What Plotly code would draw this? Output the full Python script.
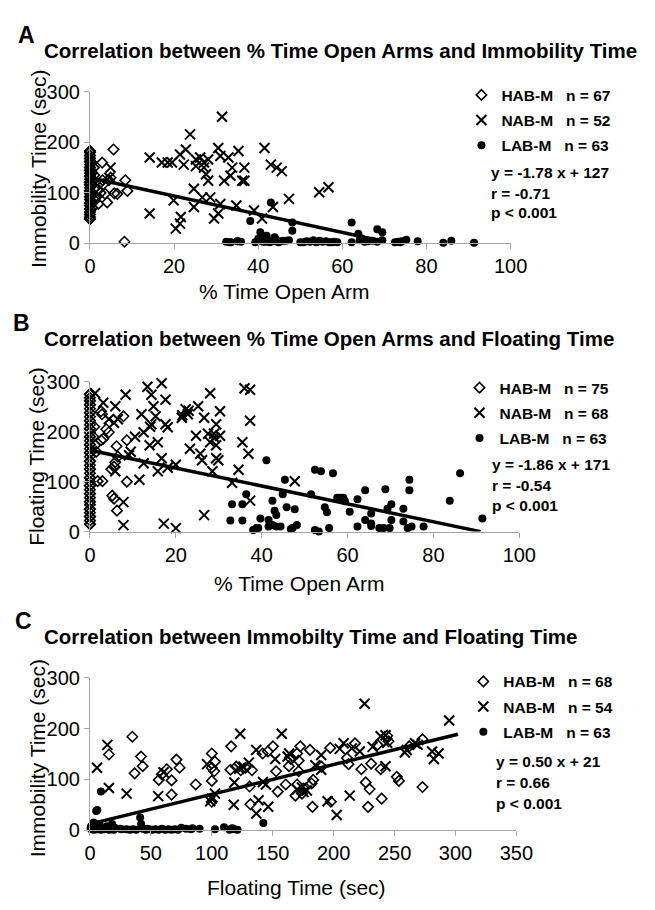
import plotly.graph_objects as go

# ---------------- Panel A: % Time Open Arm vs Immobility Time ----------------
hab_a_x = [0]*40 + [0.8, 1.2, 1.7, 2.0, 2.9, 3.2, 3.6, 4.1, 4.9, 5.6, 5.8, 6.5, 8.4, 8.9, 8.2, 1.5, 2.5,
                    0.5, 1.0, 3.0, 4.5, 0.6, 1.2, 2.2, 0.4, 0.9, 0.3]
hab_a_y = [48, 48, 52, 57, 57, 62, 68, 68, 75, 80, 80, 87, 92, 92, 98, 104, 104, 110, 116, 116,
           121, 121, 127, 133, 133, 139, 145, 145, 150, 150, 156, 162, 162, 168, 168, 174, 174, 180, 183, 183,
           124, 110, 106, 78, 160, 117, 98, 81, 130, 186, 99, 98, 125, 104, 3, 92, 100,
           140, 135, 125, 125, 70, 85, 118, 160, 150, 100]
nab_a_x = [31.4, 23.8, 22.8, 21.4, 14.2, 17.1, 18.5, 19.5, 22.3, 25.2, 26.2, 27.1, 28.1, 30.5, 31.0, 32.9,
           35.3, 36.7, 33.8, 36.2, 36.7, 31.9, 33.4, 27.6, 28.1, 25.2, 27.1, 41.5, 43.0, 44.4, 45.6, 24.7,
           24.7, 19.9, 26.7, 28.6, 31.0, 30.5, 29.5, 34.8, 39.0, 40.9, 43.5, 47.3, 54.5, 56.7, 14.2, 20.4,
           21.4, 21.6, 4.9, 4.6]
nab_a_y = [251, 216, 186, 176, 170, 160, 160, 160, 156, 166, 170, 160, 166, 189, 173, 170,
           183, 150, 150, 124, 124, 124, 134, 137, 124, 153, 150, 189, 156, 150, 143, 108,
           72, 85, 91, 91, 78, 59, 49, 75, 65, 49, 72, 88, 101, 111, 59, 29,
           39, 52, 150, 130]
lab_a_x = [32.4, 33.2, 35.1, 35.9, 39.3, 40.1, 40.8, 41.6, 42.0, 42.7, 43.5, 44.3, 45.0, 45.8, 47.3,
           50.8, 51.5, 52.3, 53.1, 53.8, 54.6, 55.3, 56.1, 56.9, 58.0, 58.8, 62.2, 64.1, 65.3, 66.1,
           67.2, 68.3, 69.5, 72.5, 73.3, 74.1, 75.2, 77.9, 84.0, 85.9, 91.3,
           38.1, 48.1, 48.1, 43.0, 62.2, 63.8, 68.3, 69.5, 40.5, 42.0, 43.9, 40.0, 64.5, 66.0,
           41.2, 43.0, 44.8, 46.5, 50.0, 54.0, 57.5, 33.5, 73.8, 35.0]
lab_a_y = [3, 2, 4, 3, 2, 5, 8, 3, 6, 2, 4, 7, 3, 5, 6,
           2, 4, 3, 6, 2, 5, 3, 4, 2, 3, 2, 2, 6, 3, 4,
           5, 3, 6, 2, 3, 4, 7, 4, 1, 5, 1,
           44, 41, 25, 81, 41, 19, 28, 22, 22, 15, 12, 9, 10, 5,
           3, 4, 2, 5, 2, 3, 2, 2, 2, 4]
trend_a_x = [0, 68]
trend_a_y = [130, 7]

# ---------------- Panel B: % Time Open Arm vs Floating Time ----------------
hab_b_x = [0]*52 + [2.8, 7.8, 4.4, 2.6, 8.6, 6.2, 2.9, 1.8, 8.6, 5.2, 5.6, 6.3, 5.6, 5.9, 2.6, 1.2,
                    3.1, 3.8, 6.5, 5.0, 1.0, 0.8, 1.5]
hab_b_y = [15, 15, 22, 30, 30, 38, 45, 45, 54, 60, 60, 68, 76, 76, 84, 92, 92, 100, 108, 108,
           117, 125, 125, 133, 141, 141, 150, 158, 158, 166, 174, 174, 182, 190, 190, 198, 206, 206, 214, 222,
           222, 230, 238, 238, 246, 254, 254, 262, 262, 268, 275, 275,
           235, 231, 199, 183, 183, 171, 101, 101, 100, 72, 66, 42, 130, 139, 241, 173,
           186, 205, 150, 125, 210, 190, 160]
nab_b_x = [1.2, 3.1, 5.9, 8.3, 13.4, 14.3, 16.7, 17.6, 14.8, 12.0, 15.3, 14.3, 12.5, 17.6, 18.1, 15.8,
           13.9, 16.7, 15.8, 12.5, 11.5, 20.0, 21.4, 22.3, 22.8, 25.2, 26.6, 28.0, 30.3, 29.4, 28.9, 24.7,
           23.3, 25.7, 26.1, 28.0, 29.4, 29.4, 30.3, 29.9, 28.5, 33.1, 34.6, 35.5, 36.9, 37.3, 36.0, 37.3,
           37.3, 47.7, 5.9, 7.8, 7.8, 17.2, 20.0, 26.6, 9.1, 5.6, 4.4, 18.1,
           9.5, 21.5, 23.0, 27.5, 29.0, 14.0, 6.5, 10.5]
nab_b_y = [277, 258, 251, 274, 290, 274, 297, 264, 251, 235, 231, 215, 199, 215, 209, 179,
           173, 147, 121, 137, 104, 134, 228, 245, 235, 251, 228, 277, 241, 215, 196, 192,
           166, 156, 143, 179, 173, 147, 192, 143, 121, 98, 124, 179, 156, 222, 287, 284,
           62, 101, 121, 59, 13, 16, 7, 33, 153, 218, 225, 128,
           160, 233, 242, 196, 188, 210, 225, 190]
lab_b_x = [41.1, 45.4, 44.9, 42.5, 45.8, 43.0, 43.4, 39.7, 33.1, 35.5, 36.4, 32.7, 35.5, 38.8, 39.2, 41.6,
           42.5, 43.4, 44.4, 41.6, 47.2, 48.2, 51.5, 52.4, 53.8, 56.6, 54.7, 55.2, 52.4, 53.3, 55.7, 57.6,
           58.3, 59.0, 59.4, 62.3, 62.3, 64.1, 64.1, 65.5, 65.5, 65.5, 67.4, 68.4, 69.8, 68.8, 69.3, 70.2,
           70.2, 73.0, 73.0, 74.0, 74.9, 74.4, 74.4, 77.7, 83.8, 86.2, 91.4, 38.0, 46.8, 60.5, 47.7]
lab_b_y = [143, 104, 75, 62, 49, 42, 33, 26, 55, 55, 75, 22, 22, 7, 7, 10,
           13, 10, 10, 23, 7, 13, 75, 124, 121, 117, 49, 39, 3, 0, 7, 68,
           68, 68, 61, 65, 10, 83, 23, 36, 16, 11, 7, 7, 7, 85, 46, 55,
           23, 46, 20, 7, 10, 104, 83, 10, 62, 117, 26, 3, 5, 40, 45]
trend_b_x = [0, 91]
trend_b_y = [163, 0]

# ---------------- Panel C: Floating Time vs Immobility Time ----------------
hab_c_x = [34.8, 15.6, 41.9, 43.3, 36.7, 56.5, 63.1, 67.0, 71.0, 73.6, 67.0, 86.8, 100.0, 100.0, 102.6, 100.0,
           102.0, 100.0, 115.9, 115.3, 123.8, 127.7, 133.0, 131.7, 131.0, 141.7, 150.2, 152.8, 154.1, 160.7,
           163.3, 170.0, 171.3, 172.6, 171.3, 170.0, 168.6, 174.0, 175.3, 180.6, 181.9, 183.2, 182.6, 197.2,
           197.7, 210.9, 212.2, 217.5, 222.8, 226.3, 229.5, 228.2, 230.8, 236.0, 238.6, 239.4, 243.9, 251.8,
           253.6, 272.9, 272.9, 59.0, 120.0, 146.0, 165.0, 190.0, 245.0, 262.0]
hab_c_y = [184, 149, 145, 126, 112, 99, 120, 98, 139, 123, 70, 90, 151, 123, 135, 97,
           116, 56, 165, 119, 118, 123, 118, 51, 86, 151, 165, 116, 76, 90,
           126, 151, 137, 165, 116, 90, 68, 72, 82, 158, 92, 99, 46, 162,
           56, 142, 130, 171, 120, 94, 81, 46, 131, 168, 120, 62, 186, 105,
           97, 179, 85, 110, 125, 155, 140, 125, 175, 165]
nab_c_x = [5.8, 14.3, 15.6, 30.1, 56.0, 60.4, 96.1, 98.7, 102.6, 118.5, 118.0, 123.3, 122.5, 130.4, 136.5,
           138.4, 136.5, 144.4, 146.3, 157.4, 162.2, 163.5, 174.0, 175.3, 189.8, 189.8, 195.1, 202.5, 208.2,
           225.4, 214.9, 221.5, 213.2, 232.0, 238.6, 242.6, 243.9, 242.6, 258.4, 266.8, 268.9, 280.8, 282.2,
           286.1, 294.8, 126.0, 142.0, 170.0, 185.0, 100.0, 152.0, 260.0, 178.0, 205.0]
nab_c_y = [123, 168, 83, 72, 67, 114, 130, 57, 72, 94, 50, 190, 121, 133, 158,
           59, 33, 90, 46, 190, 145, 151, 84, 75, 148, 119, 57, 30, 171,
           249, 161, 155, 68, 164, 185, 187, 172, 126, 153, 171, 168, 155, 140,
           151, 216, 125, 95, 80, 128, 62, 140, 158, 78, 160]
lab_c_x = [1.0, 2.4, 3.7, 5.0, 6.3, 7.7, 9.0, 10.3, 11.6, 12.9, 15.6, 16.9, 18.2, 19.5, 20.8, 26.1,
           32.7, 35.4, 38.0, 43.3, 45.9, 48.6, 51.2, 53.8, 56.5, 59.1, 61.8, 64.4, 67.0, 69.7, 72.3,
           78.9, 82.9, 84.2, 102.6, 114.5, 115.9, 118.5, 121.1,
           9.0, 5.1, 6.0, 41.2, 42.0, 142.3, 1.0, 16.9, 18.2, 5.0, 3.0, 12.0, 2.0, 0.5, 8.0, 14.0,
           20.0, 25.0, 30.0, 47.0, 75.0, 90.0, 110.0, 117.0]
lab_c_y = [2, 4, 1, 3, 2, 5, 1, 3, 2, 4, 1, 3, 2, 1, 4, 2,
           1, 2, 1, 3, 1, 2, 1, 2, 1, 3, 1, 2, 1, 2, 1,
           3, 2, 4, 2, 1, 3, 2, 1,
           76, 38, 40, 25, 12, 14, 8, 6, 12, 12, 15, 3, 2, 5, 10, 8,
           5, 3, 2, 3, 5, 3, 6, 4]
trend_c_x = [3, 302]
trend_c_y = [14, 189]

legend_names = [["HAB-M", "n = 67"], ["NAB-M", "n = 52"], ["LAB-M", "n = 63"]]
legend_names_b = [["HAB-M", "n = 75"], ["NAB-M", "n = 68"], ["LAB-M", "n = 63"]]
legend_names_c = [["HAB-M", "n = 68"], ["NAB-M", "n = 54"], ["LAB-M", "n = 63"]]
stats_a = ["y = -1.78 x + 127", "r = -0.71", "p < 0.001"]
stats_b = ["y = -1.86 x + 171", "r = -0.54", "p < 0.001"]
stats_c = ["y = 0.50 x + 21", "r = 0.66", "p < 0.001"]
titles = ["Correlation between % Time Open Arms and Immobility Time",
          "Correlation between % Time Open Arms and Floating Time",
          "Correlation between Immobilty Time and Floating Time"]

W, H = 655, 910
FONT = "Liberation Sans, Arial, sans-serif"
NB = "\u00a0"


def px(x):
    return x / W


def py(y):
    return (H - y) / H


fig = go.Figure()

panels = [
    dict(hab=(hab_a_x, hab_a_y), nab=(nab_a_x, nab_a_y), lab=(lab_a_x, lab_a_y),
         trend=(trend_a_x, trend_a_y), names=legend_names, ax="x", ay="y", leg="legend"),
    dict(hab=(hab_b_x, hab_b_y), nab=(nab_b_x, nab_b_y), lab=(lab_b_x, lab_b_y),
         trend=(trend_b_x, trend_b_y), names=legend_names_b, ax="x2", ay="y2", leg="legend2"),
    dict(hab=(hab_c_x, hab_c_y), nab=(nab_c_x, nab_c_y), lab=(lab_c_x, lab_c_y),
         trend=(trend_c_x, trend_c_y), names=legend_names_c, ax="x3", ay="y3", leg="legend3"),
]

marker_styles = {
    "hab": dict(symbol="diamond-open", size=8, color="black", line=dict(width=1.6, color="black")),
    "nab": dict(symbol="x-thin-open", size=10, color="black", line=dict(width=2, color="black")),
    "lab": dict(symbol="circle", size=8, color="black", line=dict(width=0)),
}

for i, p in enumerate(panels):
    for j, key in enumerate(["hab", "nab", "lab"]):
        xs, ys = p[key]
        nm = p["names"][j]
        fig.add_trace(go.Scatter(
            x=xs, y=ys, mode="markers", marker=marker_styles[key],
            name=nm[0] + NB * 3 + nm[1], xaxis=p["ax"], yaxis=p["ay"],
            legend=p["leg"], legendgroup=f"{i}{key}", cliponaxis=False,
            hoverinfo="x+y"))
    tx, ty = p["trend"]
    fig.add_trace(go.Scatter(x=tx, y=ty, mode="lines", line=dict(color="black", width=3.5),
                             xaxis=p["ax"], yaxis=p["ay"], showlegend=False, cliponaxis=False))

axis_common = dict(showline=True, linecolor="#a6a6a6", linewidth=1, ticks="outside",
                   tickcolor="#a6a6a6", ticklen=5, tickwidth=1, showgrid=False, zeroline=False,
                   tickfont=dict(family=FONT, size=20, color="black"), fixedrange=True)

# panel geometry (pixels)
geo = [
    dict(x0=87, x1=523, y0=238, y1=83, xr=[0, 100], dt=20),
    dict(x0=87, x1=532, y0=533.5, y1=380, xr=[0, 100], dt=20),
    dict(x0=87, x1=529, y0=839.5, y1=683.3, xr=[0, 350], dt=50),
]

layout = dict(width=W, height=H, margin=dict(l=0, r=0, t=0, b=0),
              paper_bgcolor="white", plot_bgcolor="white", showlegend=True)
for i, g in enumerate(geo):
    sfx = "" if i == 0 else str(i + 1)
    layout["xaxis" + sfx] = dict(axis_common, domain=[px(g["x0"]), px(g["x1"])], range=g["xr"],
                                 dtick=g["dt"], tick0=0, anchor="y" + sfx)
    layout["yaxis" + sfx] = dict(axis_common, domain=[py(g["y0"]), py(g["y1"])], range=[0, 300],
                                 dtick=100, tick0=0, anchor="x" + sfx)

leg_tops = [69, 369, 670]
leg_x = [472, 470, 474]
for i in range(3):
    key = "legend" if i == 0 else f"legend{i+1}"
    layout[key] = dict(x=px(leg_x[i]), y=py(leg_tops[i]), xanchor="left", yanchor="top",
                       bgcolor="rgba(0,0,0,0)", borderwidth=0, tracegroupgap=2,
                       font=dict(family=FONT, size=15.5, color="black", weight="bold"),
                       itemclick=False, itemdoubleclick=False)

fig.update_layout(**layout)

ann = []
letters = [("A", 21, 25), ("B", 16, 320), ("C", 18, 625)]
for t, x, y in letters:
    ann.append(dict(text=t, x=px(x), y=py(y), xref="paper", yref="paper", showarrow=False,
                    xanchor="center", yanchor="middle",
                    font=dict(family=FONT, size=23, color="black", weight="bold")))
title_y = [40, 336, 641]
for t, y in zip(titles, title_y):
    ann.append(dict(text=t, x=px(37), y=py(y), xref="paper", yref="paper", showarrow=False,
                    xanchor="left", yanchor="middle",
                    font=dict(family=FONT, size=20.5, color="black", weight="bold")))
xtitles = [("% Time Open Arm", 288, 287), ("% Time Open Arm", 304, 587), ("Floating Time (sec)", 301, 898)]
for t, x, y in xtitles:
    ann.append(dict(text=t, x=px(x), y=py(y), xref="paper", yref="paper", showarrow=False,
                    xanchor="center", yanchor="middle",
                    font=dict(family=FONT, size=21, color="black")))
ytitles = [("Immobility Time (sec)", 33, 162), ("Floating Time (sec)", 32, 456),
           ("Immobility Time (sec)", 33, 766)]
for t, x, y in ytitles:
    ann.append(dict(text=t, x=px(x), y=py(y), xref="paper", yref="paper", showarrow=False,
                    xanchor="center", yanchor="middle", textangle=-90,
                    font=dict(family=FONT, size=21, color="black")))
stats_pos = [(stats_a, 501, [166, 187, 207]), (stats_b, 502, [465, 486, 507]),
             (stats_c, 506, [769, 791, 812])]
for lines, x, ys in stats_pos:
    for t, y in zip(lines, ys):
        ann.append(dict(text=t, x=px(x), y=py(y), xref="paper", yref="paper", showarrow=False,
                        xanchor="left", yanchor="middle",
                        font=dict(family=FONT, size=15.5, color="black", weight="bold")))
fig.update_layout(annotations=ann)

fig.write_html("out.html", config={"displayModeBar": False},
               post_script="document.body.style.margin='0';document.body.style.overflow='hidden';")
